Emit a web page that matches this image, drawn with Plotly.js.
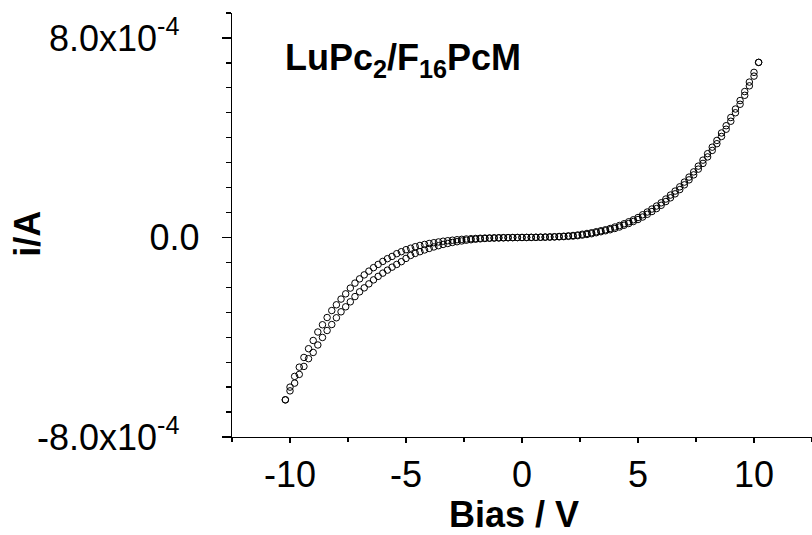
<!DOCTYPE html>
<html>
<head>
<meta charset="utf-8">
<script src="https://cdn.plot.ly/plotly-3.0.1.min.js"></script>
<style>html,body{margin:0;padding:0;background:#fff;}#chart{width:812px;height:535px;}</style>
</head>
<body>
<div id="chart"></div>
<script>
// Bias (V), sweep points
const bias = [-10.2,-10.0,-9.8,-9.6,-9.4,-9.2,-9.0,-8.8,-8.6,-8.4,-8.2,-8.0,-7.8,-7.6,-7.4,-7.2,-7.0,-6.8,-6.6,-6.4,-6.2,-6.0,-5.8,-5.6,-5.4,-5.2,-5.0,-4.8,-4.6,-4.4,-4.2,-4.0,-3.8,-3.6,-3.4,-3.2,-3.0,-2.8,-2.6,-2.4,-2.2,-2.0,-1.8,-1.6,-1.4,-1.2,-1.0,-0.8,-0.6,-0.4,-0.2,0.0,0.2,0.4,0.6,0.8,1.0,1.2,1.4,1.6,1.8,2.0,2.2,2.4,2.6,2.8,3.0,3.2,3.4,3.6,3.8,4.0,4.2,4.4,4.6,4.8,5.0,5.2,5.4,5.6,5.8,6.0,6.2,6.4,6.6,6.8,7.0,7.2,7.4,7.6,7.8,8.0,8.2,8.4,8.6,8.8,9.0,9.2,9.4,9.6,9.8,10.0,10.2];

// Current, in units of 1e-4 A
const currentBranch1 = [-6.51,-6.00,-5.57,-5.20,-4.81,-4.46,-4.13,-3.79,-3.50,-3.21,-2.93,-2.70,-2.47,-2.26,-2.03,-1.83,-1.66,-1.50,-1.35,-1.21,-1.08,-0.96,-0.85,-0.76,-0.65,-0.57,-0.49,-0.43,-0.37,-0.32,-0.28,-0.24,-0.21,-0.18,-0.15,-0.13,-0.11,-0.09,-0.075,-0.06,-0.05,-0.04,-0.03,-0.025,-0.02,-0.015,-0.01,-0.008,-0.005,-0.003,-0.001,0.0,0.002,0.005,0.008,0.012,0.017,0.023,0.03,0.04,0.05,0.065,0.08,0.10,0.13,0.16,0.19,0.23,0.27,0.31,0.36,0.42,0.48,0.55,0.63,0.71,0.80,0.91,1.02,1.14,1.26,1.39,1.54,1.70,1.86,2.03,2.22,2.42,2.63,2.86,3.10,3.36,3.62,3.89,4.19,4.48,4.81,5.15,5.49,5.85,6.23,6.62,7.02];

const currentBranch2 = [-6.51,-6.15,-5.84,-5.49,-5.17,-4.86,-4.61,-4.31,-4.01,-3.73,-3.49,-3.22,-2.98,-2.78,-2.58,-2.37,-2.18,-2.02,-1.86,-1.70,-1.56,-1.43,-1.31,-1.19,-1.08,-0.97,-0.84,-0.72,-0.64,-0.57,-0.50,-0.44,-0.38,-0.33,-0.28,-0.24,-0.20,-0.17,-0.14,-0.11,-0.09,-0.07,-0.055,-0.04,-0.03,-0.025,-0.02,-0.015,-0.01,-0.006,-0.003,0.0,0.001,0.003,0.005,0.008,0.011,0.015,0.02,0.027,0.035,0.045,0.057,0.072,0.095,0.12,0.15,0.19,0.23,0.27,0.31,0.36,0.42,0.49,0.56,0.64,0.72,0.82,0.93,1.04,1.16,1.29,1.44,1.59,1.75,1.92,2.11,2.31,2.51,2.74,2.97,3.23,3.49,3.76,4.05,4.34,4.66,5.00,5.34,5.70,6.08,6.47,7.02];

const xTickVals = [-10, -5, 0, 5, 10];
const xTickText = ['-10', '-5', '0', '5', '10'];
const yTickVals = [-8e-4, 0, 8e-4];
const yTickText = ['-8.0x10<sup>-4</sup>\u00a0\u00a0', '0.0', '8.0x10<sup>-4</sup>\u00a0\u00a0'];
const sampleLabel = 'LuPc<sub>2</sub>/F<sub>16</sub>PcM';
const xTitle = 'Bias / V';
const yTitle = 'i/A';

const FONT = 'Liberation Sans, Arial, Helvetica, sans-serif';
const toAmp = v => v * 1e-4;

const markerStyle = {symbol: 'circle-open', size: 6.5, color: '#000', line: {width: 1, color: '#000'}};

const traces = [
  {x: bias, y: currentBranch1.map(toAmp), mode: 'markers', type: 'scatter', marker: markerStyle, showlegend: false, name: 'sweep 1'},
  {x: bias, y: currentBranch2.map(toAmp), mode: 'markers', type: 'scatter', marker: markerStyle, showlegend: false, name: 'sweep 2'}
];

const layout = {
  width: 812, height: 535,
  margin: {l: 232, r: 0, t: 13, b: 98},
  paper_bgcolor: '#fff', plot_bgcolor: '#fff',
  font: {family: FONT, size: 36, color: '#000'},
  xaxis: {
    range: [-12.5, 12.5],
    tickmode: 'array', tickvals: xTickVals, ticktext: xTickText,
    ticks: 'outside', ticklen: 5, tickwidth: 1.3, tickcolor: '#000',
    minor: {ticks: 'outside', ticklen: 4, tickwidth: 1.3, tickcolor: '#000', dtick: 2.5, tick0: 0, tickmode: 'linear'},
    showline: true, linecolor: '#000', linewidth: 1.3,
    showgrid: false, zeroline: false,
    tickfont: {family: FONT, size: 36, color: '#000'},
    automargin: false
  },
  yaxis: {
    range: [-8e-4, 9e-4],
    tickmode: 'array', tickvals: yTickVals, ticktext: yTickText,
    ticks: 'outside', ticklen: 9, tickwidth: 1.3, tickcolor: '#000',
    minor: {ticks: 'outside', ticklen: 5, tickwidth: 1.3, tickcolor: '#000', dtick: 1e-4, tick0: 0, tickmode: 'linear'},
    showline: true, linecolor: '#000', linewidth: 1.3,
    showgrid: false, zeroline: false,
    tickfont: {family: FONT, size: 36, color: '#000'},
    ticklabelstandoff: 15,
    automargin: false
  },
  annotations: [
    {text: sampleLabel, xref: 'paper', yref: 'paper', x: 0.088, y: 0.89, xanchor: 'left', yanchor: 'middle',
     showarrow: false, font: {family: FONT, size: 36, color: '#000', weight: 'bold'}},
    {text: xTitle, xref: 'paper', yref: 'paper', x: 0.486, y: -0.183, xanchor: 'center', yanchor: 'middle',
     showarrow: false, font: {family: FONT, size: 36, color: '#000', weight: 'bold'}},
    {text: yTitle, xref: 'paper', yref: 'paper', x: -0.353, y: 0.48, xanchor: 'center', yanchor: 'middle',
     textangle: -90, showarrow: false, font: {family: FONT, size: 36, color: '#000', weight: 'bold'}}
  ]
};

Plotly.newPlot('chart', traces, layout, {staticPlot: true, displayModeBar: false});
</script>
</body>
</html>
